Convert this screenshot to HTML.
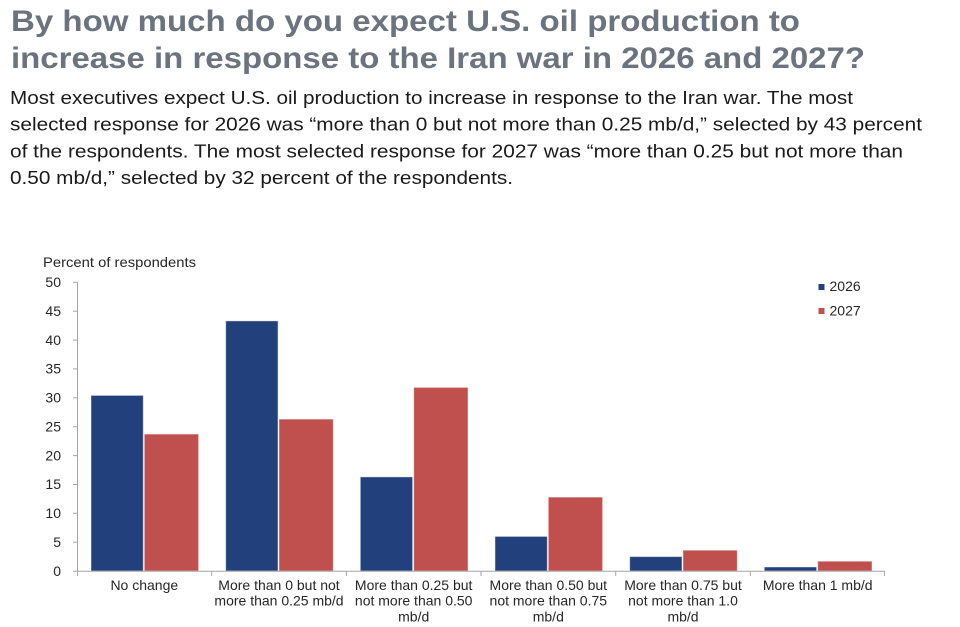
<!DOCTYPE html>
<html>
<head>
<meta charset="utf-8">
<style>
  html,body{margin:0;padding:0;background:#fff;}
  svg{display:block;}
</style>
</head>
<body>
<svg width="960" height="627" viewBox="0 0 960 627" xmlns="http://www.w3.org/2000/svg">
  <rect width="960" height="627" fill="#fff"/>
  <!-- Title -->
  <g font-family="Liberation Sans, sans-serif" font-weight="bold" font-size="30" fill="#6b737e">
    <text x="11" y="31" textLength="789" lengthAdjust="spacingAndGlyphs">By how much do you expect U.S. oil production to</text>
    <text x="11" y="68" textLength="854" lengthAdjust="spacingAndGlyphs">increase in response to the Iran war in 2026 and 2027?</text>
  </g>
  <!-- Body -->
  <g font-family="Liberation Sans, sans-serif" font-size="18" fill="#1a1a1a">
    <text x="10" y="104" textLength="843" lengthAdjust="spacingAndGlyphs">Most executives expect U.S. oil production to increase in response to the Iran war. The most</text>
    <text x="10" y="130.7" textLength="912" lengthAdjust="spacingAndGlyphs">selected response for 2026 was “more than 0 but not more than 0.25 mb/d,” selected by 43 percent</text>
    <text x="10" y="157.3" textLength="893" lengthAdjust="spacingAndGlyphs">of the respondents. The most selected response for 2027 was “more than 0.25 but not more than</text>
    <text x="10" y="184" textLength="503" lengthAdjust="spacingAndGlyphs">0.50 mb/d,” selected by 32 percent of the respondents.</text>
  </g>

  <!-- Chart -->
  <g font-family="Liberation Sans, Arial, sans-serif" fill="#262626">
    <text x="43" y="267" font-size="14" textLength="153" lengthAdjust="spacingAndGlyphs">Percent  of respondents</text>
    <g font-size="14" text-anchor="end">
      <text x="61" y="287">50</text>
      <text x="61" y="315.9">45</text>
      <text x="61" y="344.8">40</text>
      <text x="61" y="373.6">35</text>
      <text x="61" y="402.5">30</text>
      <text x="61" y="431.4">25</text>
      <text x="61" y="460.3">20</text>
      <text x="61" y="489.2">15</text>
      <text x="61" y="518">10</text>
      <text x="61" y="546.9">5</text>
      <text x="61" y="575.8">0</text>
    </g>
  </g>

  <!-- Axes -->
  <g stroke="#a6a6a6" stroke-width="1" fill="none">
    <line x1="77.5" y1="282" x2="77.5" y2="571"/>
    <line x1="73" y1="282.3" x2="77.5" y2="282.3"/>
    <line x1="73" y1="311.2" x2="77.5" y2="311.2"/>
    <line x1="73" y1="340.1" x2="77.5" y2="340.1"/>
    <line x1="73" y1="368.9" x2="77.5" y2="368.9"/>
    <line x1="73" y1="397.8" x2="77.5" y2="397.8"/>
    <line x1="73" y1="426.7" x2="77.5" y2="426.7"/>
    <line x1="73" y1="455.6" x2="77.5" y2="455.6"/>
    <line x1="73" y1="484.5" x2="77.5" y2="484.5"/>
    <line x1="73" y1="513.3" x2="77.5" y2="513.3"/>
    <line x1="73" y1="542.2" x2="77.5" y2="542.2"/>
  </g>

  <!-- Bars -->
  <g stroke="#ffffff" stroke-opacity="0.45" stroke-width="1">
    <!-- 2026 -->
    <g fill="#22407b">
      <rect x="91" y="395.4" width="52.3" height="175.6"/>
      <rect x="225.7" y="320.9" width="52.3" height="250.1"/>
      <rect x="360.3" y="476.9" width="52.3" height="94.1"/>
      <rect x="495" y="536.4" width="52.3" height="34.6"/>
      <rect x="629.7" y="556.6" width="52.3" height="14.4"/>
      <rect x="764.3" y="567" width="52.3" height="4"/>
    </g>
    <!-- 2027 -->
    <g fill="#c0504d">
      <rect x="144.3" y="434.1" width="54.3" height="136.9"/>
      <rect x="279" y="419.1" width="54.3" height="151.9"/>
      <rect x="413.7" y="387.4" width="54.3" height="183.6"/>
      <rect x="548.3" y="497.1" width="54.3" height="73.9"/>
      <rect x="683" y="550.2" width="54.3" height="20.8"/>
      <rect x="817.7" y="561.2" width="54.3" height="9.8"/>
    </g>
  </g>

  <!-- X axis -->
  <g stroke="#a6a6a6" stroke-width="1" fill="none">
    <line x1="73" y1="571.2" x2="885" y2="571.2"/>
    <line x1="77.5" y1="571" x2="77.5" y2="576"/>
    <line x1="211.7" y1="571" x2="211.7" y2="576"/>
    <line x1="346.3" y1="571" x2="346.3" y2="576"/>
    <line x1="481" y1="571" x2="481" y2="576"/>
    <line x1="615.7" y1="571" x2="615.7" y2="576"/>
    <line x1="750.3" y1="571" x2="750.3" y2="576"/>
    <line x1="884.5" y1="571" x2="884.5" y2="576"/>
  </g>

  <!-- Category labels -->
  <g font-family="Liberation Sans, Arial, sans-serif" font-size="14" fill="#262626" text-anchor="middle">
    <text x="144.3" y="590">No change</text>
    <text x="279" y="590">More than 0 but not</text>
    <text x="279" y="605.7">more than 0.25 mb/d</text>
    <text x="413.7" y="590">More than 0.25 but</text>
    <text x="413.7" y="605.7">not more than 0.50</text>
    <text x="413.7" y="621.4">mb/d</text>
    <text x="548.3" y="590">More than 0.50 but</text>
    <text x="548.3" y="605.7">not more than 0.75</text>
    <text x="548.3" y="621.4">mb/d</text>
    <text x="683" y="590">More than 0.75 but</text>
    <text x="683" y="605.7">not more than 1.0</text>
    <text x="683" y="621.4">mb/d</text>
    <text x="817.7" y="590">More than 1 mb/d</text>
  </g>

  <!-- Legend -->
  <rect x="818.5" y="284" width="6" height="6" fill="#22407b"/>
  <rect x="818.5" y="308" width="6" height="6" fill="#c0504d"/>
  <g font-family="Liberation Sans, Arial, sans-serif" font-size="14" fill="#262626">
    <text x="829.5" y="291">2026</text>
    <text x="829.5" y="315.5">2027</text>
  </g>
</svg>
</body>
</html>
